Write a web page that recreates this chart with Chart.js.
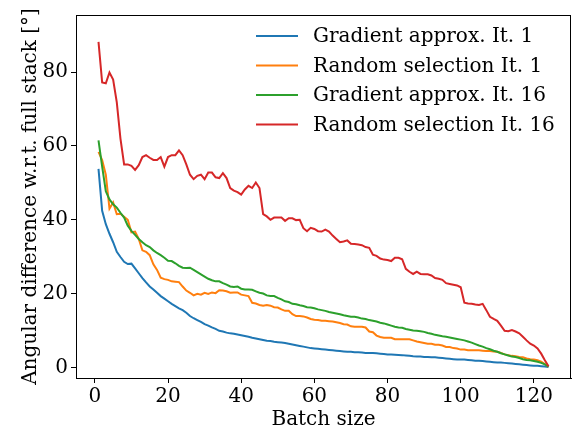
<!DOCTYPE html>
<html>
<head>
<meta charset="utf-8">
<script src="https://cdn.jsdelivr.net/npm/chart.js@4/dist/chart.umd.min.js"></script>
<style>
  html, body { margin: 0; padding: 0; background: #fff; }
</style>
</head>
<body>
<canvas id="angleChart" width="576" height="435"></canvas>
<script>
// batch sizes on the x axis
const batchSizes = [
  1, 2, 3, 4, 5, 6, 7, 8, 9, 10, 11, 12, 13, 14, 15, 16, 17, 18, 19, 20,
  21, 22, 23, 24, 25, 26, 27, 28, 29, 30, 31, 32, 33, 34, 35, 36, 37, 38, 39, 40,
  41, 42, 43, 44, 45, 46, 47, 48, 49, 50, 51, 52, 53, 54, 55, 56, 57, 58, 59, 60,
  61, 62, 63, 64, 65, 66, 67, 68, 69, 70, 71, 72, 73, 74, 75, 76, 77, 78, 79, 80,
  81, 82, 83, 84, 85, 86, 87, 88, 89, 90, 91, 92, 93, 94, 95, 96, 97, 98, 99, 100,
  101, 102, 103, 104, 105, 106, 107, 108, 109, 110, 111, 112, 113, 114, 115, 116, 117, 118, 119, 120,
  121, 122, 123, 124
];

const gradIt1 = [
  53.8, 42.4, 38.8, 36.2, 33.9, 31.3, 29.9, 28.6, 28.0, 28.1, 26.8, 25.5, 24.2, 23.0, 21.9, 21.1, 20.2, 19.3, 18.6, 17.9,
  17.2, 16.6, 16.0, 15.5, 14.8, 13.9, 13.3, 12.8, 12.3, 11.7, 11.3, 10.8, 10.4, 9.9, 9.7, 9.4, 9.2, 9.1, 8.9, 8.7,
  8.5, 8.3, 8.0, 7.8, 7.6, 7.4, 7.2, 7.1, 6.9, 6.8, 6.7, 6.6, 6.4, 6.2, 6.0, 5.8, 5.6, 5.4, 5.2, 5.1,
  5.0, 4.9, 4.8, 4.7, 4.6, 4.5, 4.4, 4.3, 4.2, 4.2, 4.1, 4.1, 4.0, 3.9, 3.9, 3.9, 3.8, 3.7, 3.6, 3.5,
  3.45, 3.4, 3.35, 3.3, 3.2, 3.1, 3.0, 2.95, 2.9, 2.8, 2.8, 2.7, 2.7, 2.6, 2.5, 2.4, 2.3, 2.2, 2.1, 2.1,
  2.1, 2.0, 1.9, 1.8, 1.8, 1.7, 1.6, 1.5, 1.4, 1.3, 1.3, 1.2, 1.1, 1.0, 0.9, 0.8, 0.7, 0.6, 0.5, 0.4,
  0.4, 0.3, 0.2, 0.1
];

const randIt1 = [
  58.4, 56.2, 52.2, 43.0, 44.7, 41.5, 41.6, 40.8, 40.0, 36.6, 36.8, 34.8, 31.7, 31.3, 30.4, 27.9, 26.4, 24.3, 23.9, 23.7,
  23.3, 23.2, 23.1, 21.9, 20.8, 20.2, 19.5, 19.9, 19.7, 20.2, 19.9, 20.3, 20.1, 20.9, 20.8, 20.6, 20.2, 20.3, 20.3, 19.7,
  19.5, 19.3, 17.5, 17.3, 16.9, 16.7, 16.9, 16.7, 16.3, 16.2, 15.7, 15.3, 15.3, 14.4, 13.9, 13.9, 13.8, 13.5, 13.1, 12.9,
  12.8, 12.6, 12.6, 12.5, 12.4, 12.2, 12.0, 11.7, 11.6, 11.1, 11.0, 11.0, 11.0, 10.8, 9.7, 9.5, 8.6, 8.2, 8.0, 8.0,
  8.0, 7.6, 7.6, 7.6, 7.6, 7.6, 7.3, 7.0, 6.8, 6.6, 6.4, 6.4, 6.1, 6.1, 5.9, 5.5, 5.5, 5.2, 5.1, 4.8,
  4.8, 4.6, 4.6, 4.6, 4.6, 4.5, 4.4, 4.4, 4.3, 4.2, 3.9, 3.5, 3.3, 3.1, 3.0, 2.8, 2.7, 2.4, 2.2, 2.1,
  1.9, 1.5, 0.9, 0.2
];

const gradIt16 = [
  61.5, 54.4, 47.7, 45.5, 44.2, 43.3, 41.9, 40.6, 38.4, 37.0, 35.9, 34.8, 33.9, 33.1, 32.6, 31.7, 31.0, 30.4, 29.7, 28.9,
  28.8, 28.2, 27.5, 27.0, 26.9, 27.0, 26.4, 25.8, 25.2, 24.6, 24.0, 23.6, 23.3, 23.3, 22.8, 22.4, 21.9, 21.8, 21.9, 21.3,
  21.1, 21.1, 21.0, 20.6, 20.2, 20.0, 19.5, 19.3, 19.3, 18.8, 18.4, 17.9, 17.7, 17.2, 17.1, 16.8, 16.6, 16.3, 16.2, 16.0,
  15.7, 15.5, 15.3, 15.0, 14.8, 14.6, 14.4, 14.1, 13.9, 13.7, 13.7, 13.5, 13.2, 13.1, 12.8, 12.6, 12.4, 12.1, 11.9, 11.6,
  11.3, 11.0, 10.8, 10.7, 10.4, 10.2, 10.0, 9.9, 9.8, 9.6, 9.3, 9.1, 8.8, 8.6, 8.4, 8.3, 8.1, 7.9, 7.7, 7.5,
  7.3, 7.0, 6.7, 6.3, 5.9, 5.6, 5.2, 4.9, 4.5, 4.2, 3.8, 3.5, 3.2, 2.9, 2.8, 2.5, 2.2, 2.0, 1.9, 1.7,
  1.5, 1.2, 0.8, 0.2
];

const randIt16 = [
  88.2, 77.2, 77.0, 79.9, 78.0, 71.8, 62.0, 55.0, 55.0, 54.6, 53.5, 54.8, 57.0, 57.5, 56.8, 56.2, 56.2, 57.0, 54.4, 57.0,
  57.5, 57.5, 58.8, 57.5, 55.0, 52.2, 51.0, 51.9, 52.2, 51.0, 52.8, 52.8, 51.5, 51.3, 52.6, 51.3, 48.6, 47.9, 47.5, 46.8,
  48.2, 49.2, 48.6, 50.1, 48.6, 41.5, 40.9, 40.0, 40.6, 40.6, 40.6, 39.7, 40.4, 40.4, 39.9, 40.0, 37.7, 36.9, 37.8, 37.5,
  36.9, 36.8, 37.3, 36.8, 35.7, 34.8, 33.9, 34.1, 34.4, 33.5, 33.4, 33.3, 33.1, 32.6, 32.4, 30.5, 30.2, 29.5, 29.2, 29.1,
  28.8, 29.7, 29.7, 29.3, 26.7, 25.9, 25.3, 25.9, 25.3, 25.2, 25.2, 24.9, 24.2, 24.0, 23.7, 22.8, 22.6, 22.4, 22.2, 21.7,
  17.5, 17.3, 17.2, 17.0, 16.9, 17.2, 15.5, 13.7, 13.1, 12.6, 11.3, 9.9, 9.8, 10.1, 9.7, 9.2, 8.3, 7.3, 6.4, 5.9,
  5.1, 3.7, 1.9, 0.3
];

const seriesNames = [
  'Gradient approx. It. 1',
  'Random selection It. 1',
  'Gradient approx. It. 16',
  'Random selection It. 16'
];
const seriesColors = ['#1f77b4', '#ff7f0e', '#2ca02c', '#d62728'];
const seriesValues = [gradIt1, randIt1, gradIt16, randIt16];

const xTicks = [0, 20, 40, 60, 80, 100, 120];
const yTicks = [0, 20, 40, 60, 80];

const FONT = "'DejaVu Serif', 'Liberation Serif', serif";

function toPoints(values) {
  return values.map((v, i) => ({ x: batchSizes[i], y: v }));
}

const datasets = seriesValues.map((vals, i) => ({
  label: seriesNames[i],
  data: toPoints(vals),
  borderColor: seriesColors[i],
  backgroundColor: seriesColors[i],
  borderWidth: 2,
  pointRadius: 0,
  tension: 0,
  order: 4 - i
}));

// box around the plot + matplotlib-style legend in the upper right
const framePlugin = {
  id: 'frame',
  afterDraw(chart) {
    const { ctx, chartArea: a } = chart;
    ctx.save();
    ctx.strokeStyle = '#000';
    ctx.lineWidth = 1;
    ctx.strokeRect(a.left + 0.5, a.top + 0.5, a.right - a.left - 1, a.bottom - a.top);

    ctx.font = '20px ' + FONT;
    ctx.textBaseline = 'middle';
    ctx.fillStyle = '#000';
    chart.data.datasets.forEach((ds, i) => {
      const y = 36 + i * 29.5;
      ctx.strokeStyle = ds.borderColor;
      ctx.lineWidth = 2;
      ctx.beginPath();
      ctx.moveTo(256, y);
      ctx.lineTo(298, y);
      ctx.stroke();
      ctx.fillText(ds.label, 313, y + 1);
    });
    ctx.restore();
  }
};

const ctx = document.getElementById('angleChart').getContext('2d');
const angleChart = new Chart(ctx, {
  type: 'line',
  data: { datasets: datasets },
  options: {
    responsive: false,
    animation: false,
    devicePixelRatio: 1,
    layout: { padding: { top: 9, right: 5, left: 0, bottom: 0 } },
    plugins: {
      legend: { display: false },
      tooltip: { enabled: false }
    },
    scales: {
      x: {
        type: 'linear',
        min: -5.15,
        max: 130.15,
        afterBuildTicks: s => { s.ticks = xTicks.map(v => ({ value: v })); },
        afterFit: s => { s.height = 57; },
        ticks: { color: '#000', font: { family: FONT, size: 20 }, padding: 2, maxRotation: 0 },
        grid: { drawOnChartArea: false, drawTicks: true, tickLength: 5, color: '#000' },
        border: { color: '#000', width: 1 },
        title: { display: true, text: 'Batch size', color: '#000', font: { family: FONT, size: 20 }, padding: { top: 0, bottom: 3 } }
      },
      y: {
        type: 'linear',
        min: -2.9,
        max: 95.5,
        afterBuildTicks: s => { s.ticks = yTicks.map(v => ({ value: v })); },
        afterFit: s => { s.width = 76; },
        ticks: { color: '#000', font: { family: FONT, size: 20 }, padding: 3 },
        grid: { drawOnChartArea: false, drawTicks: true, tickLength: 5, color: '#000' },
        border: { color: '#000', width: 1 },
        title: { display: true, text: 'Angular difference w.r.t. full stack [°]', color: '#000', font: { family: FONT, size: 20 }, padding: { top: 19, bottom: 0 } }
      }
    }
  },
  plugins: [framePlugin]
});
</script>
</body>
</html>
